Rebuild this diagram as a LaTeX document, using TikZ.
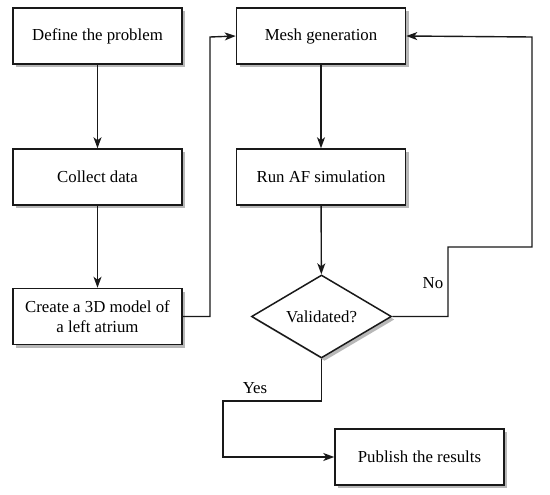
\documentclass[tikz,border=0pt]{standalone}
\usepackage{fontspec}
\setmainfont{Liberation Serif}
\usetikzlibrary{shapes.geometric,shadows,arrows.meta}
\begin{document}
\begin{tikzpicture}[x=1pt,y=-1pt,
  shadowed/.style={drop shadow={shadow xshift=3pt,shadow yshift=-3pt,fill=black!28,opacity=1}},
  box/.style={draw=black!90,line width=1.5pt,fill=white,rectangle,minimum width=169pt,minimum height=56pt,inner sep=2pt,align=center,font=\fontsize{16.8}{19.5}\selectfont,shadowed},
  decision/.style={draw=black!90,line width=1.5pt,fill=white,diamond,inner sep=0pt,minimum width=140pt,minimum height=83pt,aspect=1.69,font=\fontsize{16.8}{19.5}\selectfont,shadowed},
  conn/.style={draw=black!90,line width=1.4pt,-{Stealth[length=11pt,width=8pt,inset=3pt]}},
  lbl/.style={font=\fontsize{16.8}{19.5}\selectfont,inner sep=0pt}]
\useasboundingbox (0,0) rectangle (550,495);
\node[box] (define) at (97.5,36) {Define the problem};
\node[box] (collect) at (97.5,177) {Collect data};
\node[box] (create) at (97.5,316.5) {Create a 3D model of\\a left atrium};
\node[box] (mesh) at (321,36) {Mesh generation};
\node[box] (run) at (321,177) {Run AF simulation};
\node[decision] (valid) at (321.5,316.5) {Validated?};
\node[box] (publish) at (419.5,457) {Publish the results};
\coordinate (c1) at (210,316.5);
\coordinate (c2) at (210,37);
\coordinate (n1) at (448,316.5);
\coordinate (n2) at (448,247);
\coordinate (n3) at (532,247);
\coordinate (n4) at (532,37);
\coordinate (y1) at (321.5,401);
\coordinate (y2) at (223,401);
\coordinate (y3) at (223,457);
\draw[conn] (define) -- (collect);
\draw[conn] (collect) -- (create);
\draw[conn] (mesh) -- (run);
\draw[conn] (run) -- (valid);
\draw[conn] (create.east) -- (c1) -- (c2) -- (mesh.west);
\draw[conn] (valid.east) -- (n1) -- (n2) -- (n3) -- (n4) -- (mesh.east);
\draw[conn] (valid.south) -- (y1) -- (y2) -- (y3) -- (publish.west);
\node[lbl] (no) at (433,283) {No};
\node[lbl] (yes) at (255,388) {Yes};
\end{tikzpicture}
\end{document}
